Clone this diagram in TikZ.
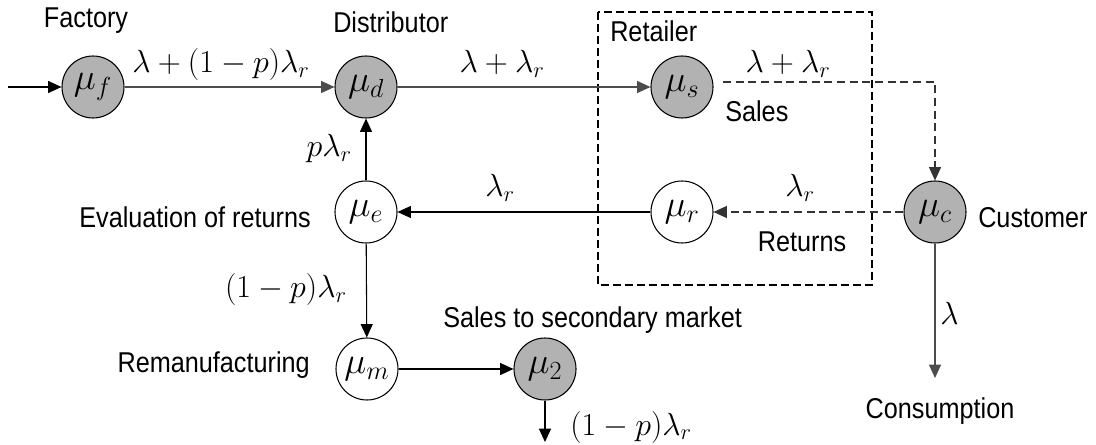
\RequirePackage{fix-cm}
\documentclass[tikz,border=0pt]{standalone}
\usepackage{fontspec}
\setmainfont[FakeStretch=0.88]{Liberation Sans}
\usetikzlibrary{arrows.meta}
\begin{document}
\begin{tikzpicture}[x=0.75pt,y=-0.75pt,
  st/.style={circle,draw=black,line width=0.8pt,minimum size=46.5pt,inner sep=0pt,font=\fontsize{28}{32}\selectfont},
  gst/.style={st,fill=black!30},
  wst/.style={st,fill=white},
  lbl/.style={font=\fontsize{21.5}{26}\selectfont,inner sep=0pt},
  mlbl/.style={font=\fontsize{24}{28}\selectfont,inner sep=0pt},
  arr/.style={-{Triangle[length=10pt,width=9pt]},line width=0.8pt},
  garr/.style={arr,draw=black!70},
  darr/.style={arr,dash pattern=on 6pt off 3.5pt,draw=black!80},
  boxline/.style={line width=1.4pt,dash pattern=on 6pt off 3pt}
]
\useasboundingbox (0,0) rectangle (1096,445);

% dashed retailer box
\draw[boxline] (598,12) rectangle (872,285);

% stations
\node[gst] (f) at (93,87) {$\mu_f$};
\node[gst] (d) at (366,87) {$\mu_d$};
\node[gst] (s) at (682,87) {$\mu_s$};
\node[gst] (c) at (935,212) {$\mu_c$};
\node[wst] (r) at (682,212) {$\mu_r$};
\node[wst] (e) at (366,212) {$\mu_e$};
\node[wst] (m) at (367,369) {$\mu_m$};
\node[gst] (t) at (545,369) {$\mu_2$};

% free ends
\coordinate (in) at (8,87);
\coordinate (s1) at (723,82);
\coordinate (s2) at (935,82);
\coordinate (cons) at (935,378);
\coordinate (out2) at (545,442);

% connectors
\draw[arr] (in) -- (f);
\draw[garr] (f) -- (d);
\draw[garr] (d) -- (s);
\draw[darr] (s1) -- (s2) -- (c);
\draw[darr] (c) -- (r);
\draw[arr] (r) -- (e);
\draw[arr] (e) -- (d);
\draw[arr] (e) -- (m);
\draw[arr] (m) -- (t);
\draw[arr] (t) -- (out2);
\draw[garr] (c) -- (cons);

% text labels
\node[lbl,anchor=base] (lf) at (86,28) {Factory};
\node[lbl,anchor=base west] (ld) at (333,33) {Distributor};
\node[lbl,anchor=base west] (lr) at (610,42) {Retailer};
\node[lbl,anchor=base west] (lsales) at (725,122) {Sales};
\node[lbl,anchor=base] (lret) at (802,252) {Returns};
\node[lbl,anchor=base west] (lc) at (978,228) {Customer};
\node[lbl,anchor=base east] (le) at (311,228) {Evaluation of returns};
\node[lbl,anchor=base east] (lm) at (310,372) {Remanufacturing};
\node[lbl,anchor=base west] (l2) at (443,328) {Sales to secondary market};
\node[lbl,anchor=base] (lcons) at (940,418) {Consumption};

% flow labels
\node[mlbl,anchor=base] (m1) at (221,73) {$\lambda+(1-p)\lambda_r$};
\node[mlbl,anchor=base] (m2) at (502,73) {$\lambda+\lambda_r$};
\node[mlbl,anchor=base] (m3) at (788,73) {$\lambda+\lambda_r$};
\node[mlbl,anchor=base] (m4) at (800,197) {$\lambda_r$};
\node[mlbl,anchor=base] (m5) at (500,197) {$\lambda_r$};
\node[mlbl,anchor=base east] (m6) at (352,157) {$p\lambda_r$};
\node[mlbl,anchor=base east] (m7) at (347,298) {$(1-p)\lambda_r$};
\node[mlbl,anchor=base west] (m8) at (570,435) {$(1-p)\lambda_r$};
\node[mlbl,anchor=base west] (m9) at (940,325) {$\lambda$};
\end{tikzpicture}
\end{document}
